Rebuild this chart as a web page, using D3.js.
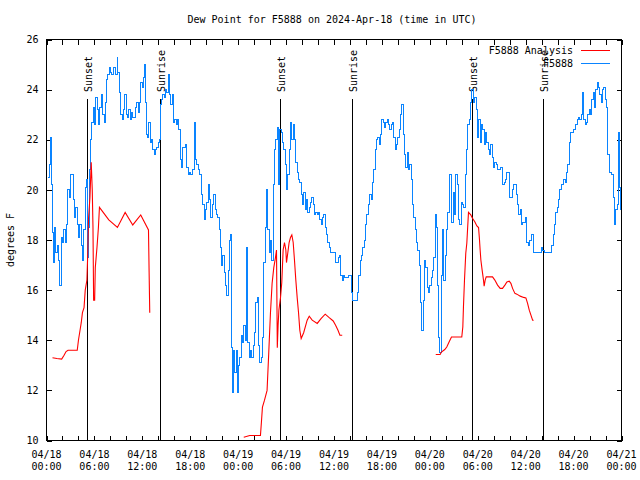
<!DOCTYPE html>
<html><head><meta charset="utf-8">
<script src="https://cdn.jsdelivr.net/npm/d3@7"></script>
<style>
body{margin:0;background:#fff}
svg{display:block}
text{font-family:"DejaVu Sans Mono","Liberation Mono",monospace;font-size:10px;fill:#000}
</style>
</head><body><svg id="c" width="640" height="480"></svg>
<script>
const title = "Dew Point for F5888 on 2024-Apr-18 (time in UTC)";
const yLabel = "degrees F";
const seriesNames = ["F5888 Analysis", "F5888"];
const seriesColors = ["#ff0000", "#0a84ff"];
const startTime = Date.UTC(2024, 3, 18, 0, 0);
const endTime = Date.UTC(2024, 3, 21, 0, 0);
const yTicks = [10, 12, 14, 16, 18, 20, 22, 24, 26];
const xLabelHours = [0, 6, 12, 18, 24, 30, 36, 42, 48, 54, 60, 66, 72];
const xMinorHours = d3.range(0, 73, 2);
const sunEventHours = [5.12, 14.15, 29.2, 38.2, 53.25, 62.15];
const sunEventLabels = ["Sunset", "Sunrise", "Sunset", "Sunrise", "Sunset", "Sunrise"];

// F5888 observations: hours since 04/18 00:00 UTC, dew point (F)
const blueHours = [0.17,0.33,0.46,0.59,0.75,0.88,1.0,1.17,1.34,1.51,1.67,1.84,2.0,2.18,2.34,2.51,2.68,2.85,3.01,3.18,3.35,3.51,3.68,3.85,4.02,4.18,4.35,4.52,4.69,4.85,5.02,5.15,5.31,5.44,5.56,5.69,5.86,6.03,6.19,6.36,6.53,6.69,6.86,7.03,7.2,7.36,7.53,7.7,7.87,8.03,8.2,8.41,8.62,8.83,8.95,9.12,9.29,9.46,9.62,9.79,9.96,10.13,10.29,10.46,10.63,10.8,10.96,11.13,11.3,11.46,11.63,11.8,11.97,12.13,12.26,12.38,12.47,12.64,12.8,12.97,13.14,13.31,13.47,13.64,13.81,13.97,14.1,14.23,14.39,14.56,14.73,14.9,15.06,15.23,15.4,15.56,15.73,15.9,16.07,16.23,16.4,16.57,16.74,16.9,17.07,17.24,17.41,17.57,17.74,17.91,
18.08,18.34,18.5,18.67,18.84,19.0,19.17,19.34,19.42,19.59,19.76,19.92,20.09,20.26,20.43,20.59,20.76,20.93,21.1,21.26,21.43,21.6,21.77,21.93,22.1,22.27,22.43,22.6,22.77,22.94,23.06,23.19,23.31,23.44,23.6,23.73,23.86,24.02,24.19,24.36,24.53,24.69,24.86,25.07,25.19,25.36,25.53,25.7,25.86,26.03,26.2,26.37,26.53,26.7,26.87,27.03,27.2,27.37,27.54,27.7,27.87,28.04,28.21,28.37,28.54,28.71,28.88,29.04,29.21,29.38,29.54,29.71,29.88,30.05,30.21,30.38,30.55,30.72,30.88,31.05,31.22,31.38,31.55,31.72,31.89,32.05,32.22,32.39,32.56,32.72,32.89,33.06,33.22,33.39,33.56,33.73,33.89,34.06,34.23,34.4,34.56,34.73,34.9,35.06,35.23,35.4,35.57,35.73,
35.95,36.2,36.37,36.54,36.7,36.87,37.04,37.21,37.37,37.79,38.13,38.29,38.84,38.96,39.13,39.3,39.46,39.63,39.8,39.97,40.13,40.3,40.47,40.64,40.8,40.97,41.14,41.3,41.47,41.64,41.81,41.97,42.14,42.31,42.48,42.64,42.81,42.98,43.14,43.31,43.48,43.65,43.81,43.98,44.15,44.32,44.48,44.65,44.82,44.98,45.15,45.32,45.49,45.65,45.82,45.99,46.16,46.32,46.49,46.66,46.83,46.99,47.16,47.33,47.49,47.66,47.83,48.0,48.16,48.33,48.5,48.67,48.83,49.0,49.13,49.25,49.42,49.59,49.75,49.92,50.09,50.25,50.42,50.59,50.76,50.92,51.09,51.26,51.43,51.59,51.76,51.93,52.09,52.26,52.43,52.6,52.76,52.93,53.1,53.27,53.43,53.6,
53.81,53.97,54.14,54.31,54.48,54.64,54.81,54.98,55.15,55.31,55.48,55.65,55.81,55.98,56.15,56.32,56.48,56.65,56.82,56.99,57.15,57.32,57.49,57.66,57.82,57.99,58.16,58.32,58.49,58.66,58.83,58.99,59.16,59.33,59.5,59.66,59.83,60.0,60.16,60.33,60.5,60.67,60.83,61.0,62.0,62.17,62.34,63.09,63.26,63.43,63.6,63.76,63.93,64.1,64.26,64.43,64.6,64.77,64.93,65.1,65.27,65.43,65.6,65.77,65.94,66.1,66.27,66.44,66.61,66.77,66.94,67.11,67.27,67.44,67.61,67.78,67.94,68.11,68.28,68.45,68.61,68.78,68.95,69.11,69.28,69.45,69.62,69.78,69.95,70.12,70.29,70.45,70.79,70.96,71.12,71.29,71.46,71.63,71.79,71.92];
const blueValues = [20.5,21.0,22.1,20.2,18.3,17.1,18.5,17.5,17.8,17.2,16.2,18.1,17.9,18.4,17.9,18.6,20.0,19.7,20.6,20.6,19.6,18.9,19.3,18.6,18.1,18.6,17.8,17.2,18.4,20.1,20.4,17.3,18.5,20.8,22.0,22.7,23.3,22.6,23.7,23.2,22.6,23.3,23.8,23.0,22.7,23.5,24.4,24.6,24.9,24.7,24.6,24.9,24.6,25.3,24.7,23.9,23.0,22.8,23.2,23.8,23.0,22.9,23.2,22.8,23.1,22.9,22.9,23.3,23.5,23.1,23.5,24.3,24.1,24.5,25.0,23.5,22.2,22.1,22.7,21.9,22.0,21.6,21.4,21.6,21.7,21.9,22.0,23.4,23.6,23.8,23.7,24.0,23.9,24.6,23.8,23.4,23.8,22.7,22.8,22.6,22.8,22.4,21.2,20.9,21.7,21.7,21.8,20.9,20.6,20.7,
20.6,20.8,22.7,21.2,21.0,20.8,20.6,20.6,19.8,19.4,18.8,19.2,19.5,20.2,19.6,18.9,19.4,19.8,19.2,19.0,18.9,18.4,17.7,17.0,17.4,16.7,16.2,15.8,16.8,18.0,18.2,13.7,11.9,13.6,12.7,13.6,11.9,13.0,13.3,14.2,13.9,14.6,14.0,17.7,13.9,13.3,13.6,13.3,13.8,14.3,15.5,15.7,13.8,13.1,13.3,14.1,17.1,18.5,20.0,18.4,17.5,18.0,17.2,20.2,21.6,22.0,22.5,20.2,22.4,22.3,21.9,21.6,21.0,20.0,20.6,21.6,22.7,22.0,22.6,22.0,21.1,20.7,20.4,20.3,19.8,19.4,19.9,19.2,19.6,19.1,19.3,19.5,19.7,19.4,19.0,19.1,19.0,19.1,18.8,18.6,18.9,19.0,18.5,18.2,17.9,17.7,17.5,17.5,
17.5,17.1,17.1,17.3,17.4,16.6,16.4,16.6,16.5,16.6,15.9,15.6,15.6,15.9,16.6,17.2,17.4,17.7,18.0,18.6,19.0,19.4,19.8,19.6,20.3,20.8,21.6,22.0,22.1,21.8,22.2,22.8,22.7,22.5,22.7,22.8,22.6,22.4,22.6,22.7,22.1,21.6,21.8,22.1,22.4,23.0,23.4,22.2,21.4,20.9,21.5,20.8,21.0,20.4,19.4,18.9,18.4,17.9,17.6,17.0,15.5,14.4,15.6,17.2,16.9,16.1,15.9,16.2,16.5,16.8,17.3,19.0,18.5,16.2,14.1,13.5,16.6,18.4,16.4,17.4,18.4,19.1,20.6,20.6,18.7,19.9,19.0,20.6,20.2,18.8,18.6,19.5,19.4,19.3,20.6,21.6,22.6,22.8,23.5,24.0,23.5,23.7,
23.2,22.1,22.8,21.9,22.6,22.4,21.8,22.3,21.9,21.6,21.4,21.8,21.3,20.9,21.1,21.0,20.8,20.8,20.9,20.9,20.2,20.3,20.4,20.7,20.7,19.7,19.7,20.0,20.2,20.2,19.8,19.4,19.0,19.2,18.6,18.7,18.7,18.9,17.9,17.8,18.0,18.2,18.2,17.5,17.7,17.6,17.5,17.5,17.8,18.2,18.6,19.1,19.3,19.6,20.0,20.2,20.2,20.4,20.3,20.7,21.0,21.9,22.3,22.3,22.4,22.4,22.6,22.8,22.9,22.8,23.0,23.9,22.8,22.6,22.7,23.0,23.2,23.0,23.6,23.9,23.3,24.0,24.3,24.1,23.8,23.5,24.0,24.1,23.6,23.3,21.4,20.7,20.6,19.7,18.6,19.2,19.4,22.3,20.1,19.2];

// F5888 Analysis: hours since 04/18 00:00 UTC, dew point (F); null = gap
const redHours = [0.75,1.3,1.9,2.2,2.45,2.7,3.85,4.0,4.2,4.35,4.5,4.7,4.85,5.06,5.15,5.27,5.44,5.6,5.73,5.82,5.9,6.03,6.11,6.32,6.5,6.63,7.8,8.88,9.85,10.8,11.8,12.77,12.85,12.93,
18.0,
24.7,25.45,26.79,26.91,27.04,27.29,27.62,27.83,28.04,28.25,28.46,28.67,28.8,28.9,29.0,29.1,29.3,29.46,29.63,29.8,29.97,30.05,30.22,30.38,30.55,30.72,30.89,31.05,31.22,31.39,31.56,31.72,31.89,32.2,32.64,32.9,33.27,33.9,34.4,34.9,35.4,35.9,36.2,36.5,36.74,37.03,
42.0,
48.74,49.29,49.45,49.87,50.12,50.41,50.71,51.04,52.0,52.13,52.21,52.34,52.5,52.63,52.72,52.84,53.13,53.34,53.63,53.89,54.1,54.22,54.3,54.39,54.55,54.72,54.8,54.93,55.06,55.85,56.14,56.48,56.81,57.1,57.4,57.65,57.94,58.15,58.36,58.65,58.9,59.32,59.74,60.03,60.24,60.45,60.66,60.87,61.0];
const redValues = [13.3,13.27,13.25,13.4,13.55,13.6,13.6,14.0,14.4,14.7,15.1,15.3,16.0,16.4,17.3,18.9,19.7,21.1,20.0,18.5,15.6,15.6,16.9,17.7,18.5,19.3,18.8,18.5,19.1,18.6,19.0,18.4,16.7,15.1,
null,
10.13,10.2,10.2,10.73,11.33,11.6,12.0,13.5,15.07,16.27,16.9,17.3,17.6,13.7,14.6,15.2,15.7,16.3,17.6,17.9,17.6,17.1,17.5,17.9,18.1,18.2,17.9,17.2,16.4,15.7,15.1,14.4,14.07,14.3,14.8,14.96,14.8,14.67,14.87,15.04,14.9,14.77,14.6,14.4,14.2,14.2,
null,
13.43,13.43,13.53,13.63,13.73,13.93,14.13,14.13,14.13,14.53,15.33,16.4,17.47,17.87,18.4,19.1,19.0,18.87,18.73,18.56,18.5,18.0,17.6,17.2,16.8,16.4,16.16,16.4,16.53,16.53,16.4,16.2,16.07,16.07,16.2,16.33,16.36,16.27,16.07,15.87,15.84,15.76,15.71,15.69,15.47,15.2,15.0,14.8,14.8];

(function () {
const HR = 3600e3;
const toDate = h => new Date(startTime + h * HR);
const blueData = blueHours.map((h, i) => ({t: toDate(h), v: blueValues[i]}));
const redData = redHours.map((h, i) => ({t: toDate(h), v: redValues[i]}));

const pL = 46.5, pR = 621.5, pT = 39.5, pB = 440.5;
const svg = d3.select("#c");
const x = d3.scaleUtc().domain([new Date(startTime), new Date(endTime)]).range([pL, pR]);
const y = d3.scaleLinear().domain([10, 26]).range([pB, pT]);

svg.append("text").attr("x", 332).attr("y", 23).attr("text-anchor", "middle").text(title);
svg.append("text").attr("transform", "translate(14,240) rotate(-90)").attr("text-anchor", "middle").text(yLabel);

const ax = svg.append("g").attr("shape-rendering", "crispEdges");
ax.append("g").attr("transform", `translate(${pL},0)`)
  .call(d3.axisLeft(y).tickValues(yTicks).tickSize(-5).tickPadding(8).tickFormat(d3.format("d")))
  .call(g => g.select(".domain").remove());
ax.append("g").attr("transform", `translate(${pR},0)`)
  .call(d3.axisRight(y).tickValues(yTicks).tickSize(-5).tickFormat(""))
  .call(g => g.select(".domain").remove());
ax.append("g").attr("transform", `translate(0,${pB})`)
  .call(d3.axisBottom(x).tickValues(xMinorHours.map(toDate)).tickSize(-5).tickFormat(""))
  .call(g => g.select(".domain").remove());
ax.append("g").attr("transform", `translate(0,${pT})`)
  .call(d3.axisTop(x).tickValues(xMinorHours.map(toDate)).tickSize(-5).tickFormat(""))
  .call(g => g.select(".domain").remove());
ax.selectAll("g").attr("font-size", null).attr("font-family", null);

const fmtD = d3.utcFormat("%m/%d"), fmtT = d3.utcFormat("%H:%M");
const xl = svg.append("g").selectAll("text").data(xLabelHours.map(toDate)).join("text")
  .attr("text-anchor", "middle").attr("x", d => x(d));
xl.append("tspan").attr("x", d => x(d)).attr("y", 458).text(d => fmtD(d));
xl.append("tspan").attr("x", d => x(d)).attr("y", 470).text(d => fmtT(d));

const sun = svg.append("g");
sun.selectAll("line").data(sunEventHours).join("line")
  .attr("x1", h => Math.round(x(toDate(h))) + 0.5).attr("x2", h => Math.round(x(toDate(h))) + 0.5)
  .attr("y1", 99).attr("y2", pB).attr("stroke", "#000").attr("stroke-width", 1).attr("shape-rendering", "crispEdges");
sun.selectAll("text").data(sunEventHours).join("text")
  .attr("transform", h => `translate(${Math.round(x(toDate(h))) + 5},92) rotate(-90)`)
  .text((h, i) => sunEventLabels[i]);

const line = d3.line().defined(d => d.v != null).x(d => x(d.t)).y(d => y(d.v));
svg.append("path").datum(blueData).attr("fill", "none").attr("stroke", seriesColors[1]).attr("stroke-width", 1)
  .attr("shape-rendering", "crispEdges").attr("d", line.curve(d3.curveStepAfter));
svg.append("path").datum(redData).attr("fill", "none").attr("stroke", seriesColors[0]).attr("stroke-width", 1.1)
  .attr("d", line.curve(d3.curveLinear));

svg.append("rect").attr("x", pL).attr("y", pT).attr("width", pR - pL).attr("height", pB - pT)
  .attr("fill", "none").attr("stroke", "#000").attr("stroke-width", 1).attr("shape-rendering", "crispEdges");

const lg = svg.append("g");
seriesNames.forEach((n, i) => {
  const yy = 50 + i * 13;
  lg.append("text").attr("x", 573).attr("y", yy + 3.5).attr("text-anchor", "end").text(n);
  lg.append("line").attr("x1", 581).attr("x2", 610).attr("y1", yy + 0.5).attr("y2", yy + 0.5)
    .attr("stroke", seriesColors[i]).attr("stroke-width", 1).attr("shape-rendering", "crispEdges");
});
})();
</script>
</body></html>
